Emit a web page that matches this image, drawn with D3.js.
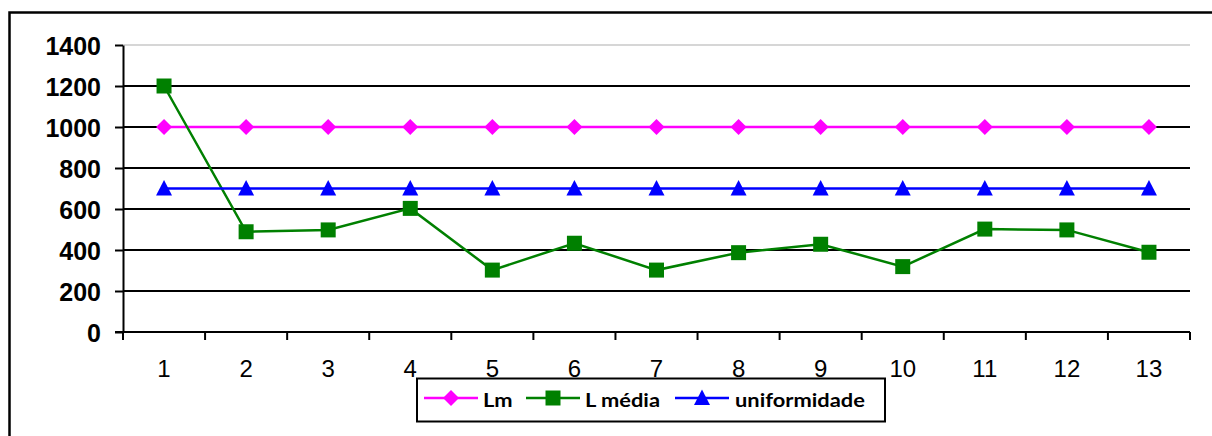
<!DOCTYPE html>
<html>
<head>
<meta charset="utf-8">
<script src="https://cdn.jsdelivr.net/npm/d3@7"></script>
<style>
  html, body { margin: 0; padding: 0; background: #fff; }
  svg { display: block; }
</style>
</head>
<body>
<svg id="chart" width="1212" height="436"></svg>
<script>
// Measurement points along the route
const categories = ["1","2","3","4","5","6","7","8","9","10","11","12","13"];
// Minimum luminance reference
const lmValues = [1000,1000,1000,1000,1000,1000,1000,1000,1000,1000,1000,1000,1000];
// Measured average luminance
const lMediaValues = [1200,489,498,603,302,433,302,387,428,319,502,498,389];
// Uniformity reference
const uniformValues = [700,700,700,700,700,700,700,700,700,700,700,700,700];
const yTicks = [0,200,400,600,800,1000,1200,1400];

const series = [
  { name: "Lm", values: lmValues, color: "#ff00ff", symbol: "diamond" },
  { name: "L média", values: lMediaValues, color: "#008000", symbol: "square" },
  { name: "uniformidade", values: uniformValues, color: "#0000ff", symbol: "triangle" }
];

const svg = d3.select("#chart");
const plotLeft = 123, plotRight = 1190, plotTop = 45, plotBottom = 332;

// Outer frame
svg.append("rect")
  .attr("x", 9.5).attr("y", 12.5)
  .attr("width", 1220).attr("height", 440)
  .attr("fill", "none").attr("stroke", "#000").attr("stroke-width", 2.5);

const x = d3.scaleBand().domain(categories).range([plotLeft, plotRight]).paddingInner(0).paddingOuter(0);
const y = d3.scaleLinear().domain([0, 1400]).range([plotBottom, plotTop]);

// Horizontal gridlines
svg.append("g").selectAll("line")
  .data(yTicks.filter(t => t > 0))
  .join("line")
  .attr("x1", plotLeft).attr("x2", plotRight)
  .attr("y1", d => y(d)).attr("y2", d => y(d))
  .attr("stroke", d => d === 1400 ? "#c8c8c8" : "#000")
  .attr("stroke-width", d => d === 1400 ? 1.5 : 2);

// Y axis
const yAxis = d3.axisLeft(y).tickValues(yTicks).tickFormat(d3.format("d"))
  .tickSize(8).tickPadding(14).tickSizeOuter(0);
const gy = svg.append("g").attr("transform", `translate(${plotLeft},0)`).call(yAxis);
gy.select(".domain").attr("stroke", "#000").attr("stroke-width", 2);
gy.selectAll(".tick line").attr("stroke", "#000").attr("stroke-width", 2);
gy.selectAll(".tick text")
  .style("font-family", "'Liberation Sans', Arial, sans-serif")
  .style("font-weight", "bold").style("font-size", "25px").attr("fill", "#000")
  .attr("dy", "0.36em");

// X axis with ticks between categories
const xAxis = d3.axisBottom(x).tickSize(0).tickPadding(28);
const gx = svg.append("g").attr("transform", `translate(0,${plotBottom})`).call(xAxis);
gx.select(".domain").remove();
gx.selectAll(".tick text")
  .style("font-family", "'Liberation Sans', Arial, sans-serif")
  .style("font-size", "24px").attr("fill", "#000")
  .attr("dy", "0.71em");
svg.append("line")
  .attr("x1", plotLeft - 8).attr("x2", plotRight)
  .attr("y1", plotBottom).attr("y2", plotBottom)
  .attr("stroke", "#000").attr("stroke-width", 2);
const boundaries = categories.map(c => x(c)).concat([plotRight]);
svg.append("g").selectAll("line")
  .data(boundaries)
  .join("line")
  .attr("x1", d => d).attr("x2", d => d)
  .attr("y1", plotBottom).attr("y2", plotBottom + 8)
  .attr("stroke", "#000").attr("stroke-width", 2);

const cx = c => x(c) + x.bandwidth() / 2;

// Marker shapes: diamond, square and upright triangle
const markerPaths = {
  diamond: "M0,-8L8,0L0,8L-8,0Z",
  square: "M-7.5,-7.5H7.5V7.5H-7.5Z",
  triangle: "M0,-8.5L8,7L-8,7Z"
};

const line = d3.line().x((d, i) => cx(categories[i])).y(d => y(d));

series.forEach(s => {
  const g = svg.append("g");
  g.append("path")
    .attr("d", line(s.values))
    .attr("fill", "none")
    .attr("stroke", s.color)
    .attr("stroke-width", 2.5);
  g.selectAll("path.pt")
    .data(s.values)
    .join("path")
    .attr("class", "pt")
    .attr("transform", (d, i) => `translate(${cx(categories[i])},${y(d)})`)
    .attr("d", markerPaths[s.symbol])
    .attr("fill", s.color);
});

// Legend
const legend = svg.append("g");
legend.append("rect")
  .attr("x", 417).attr("y", 378.5)
  .attr("width", 468).attr("height", 43)
  .attr("fill", "#fff").attr("stroke", "#000").attr("stroke-width", 2);

const legendItems = [
  { s: series[0], x0: 424, tx: 483 },
  { s: series[1], x0: 526, tx: 585 },
  { s: series[2], x0: 675, tx: 735 }
];
const ly = 398;
legendItems.forEach(it => {
  legend.append("line")
    .attr("x1", it.x0).attr("x2", it.x0 + 54)
    .attr("y1", ly).attr("y2", ly)
    .attr("stroke", it.s.color).attr("stroke-width", 2.5);
  legend.append("path")
    .attr("transform", `translate(${it.x0 + 27},${ly})`)
    .attr("d", markerPaths[it.s.symbol])
    .attr("fill", it.s.color);
  legend.append("text")
    .attr("transform", `translate(${it.tx},407) scale(1.15,1)`)
    .style("font-family", "Lato, 'Open Sans', sans-serif")
    .style("font-weight", "bold").style("font-size", "19px")
    .attr("fill", "#000")
    .text(it.s.name);
});
</script>
</body>
</html>
